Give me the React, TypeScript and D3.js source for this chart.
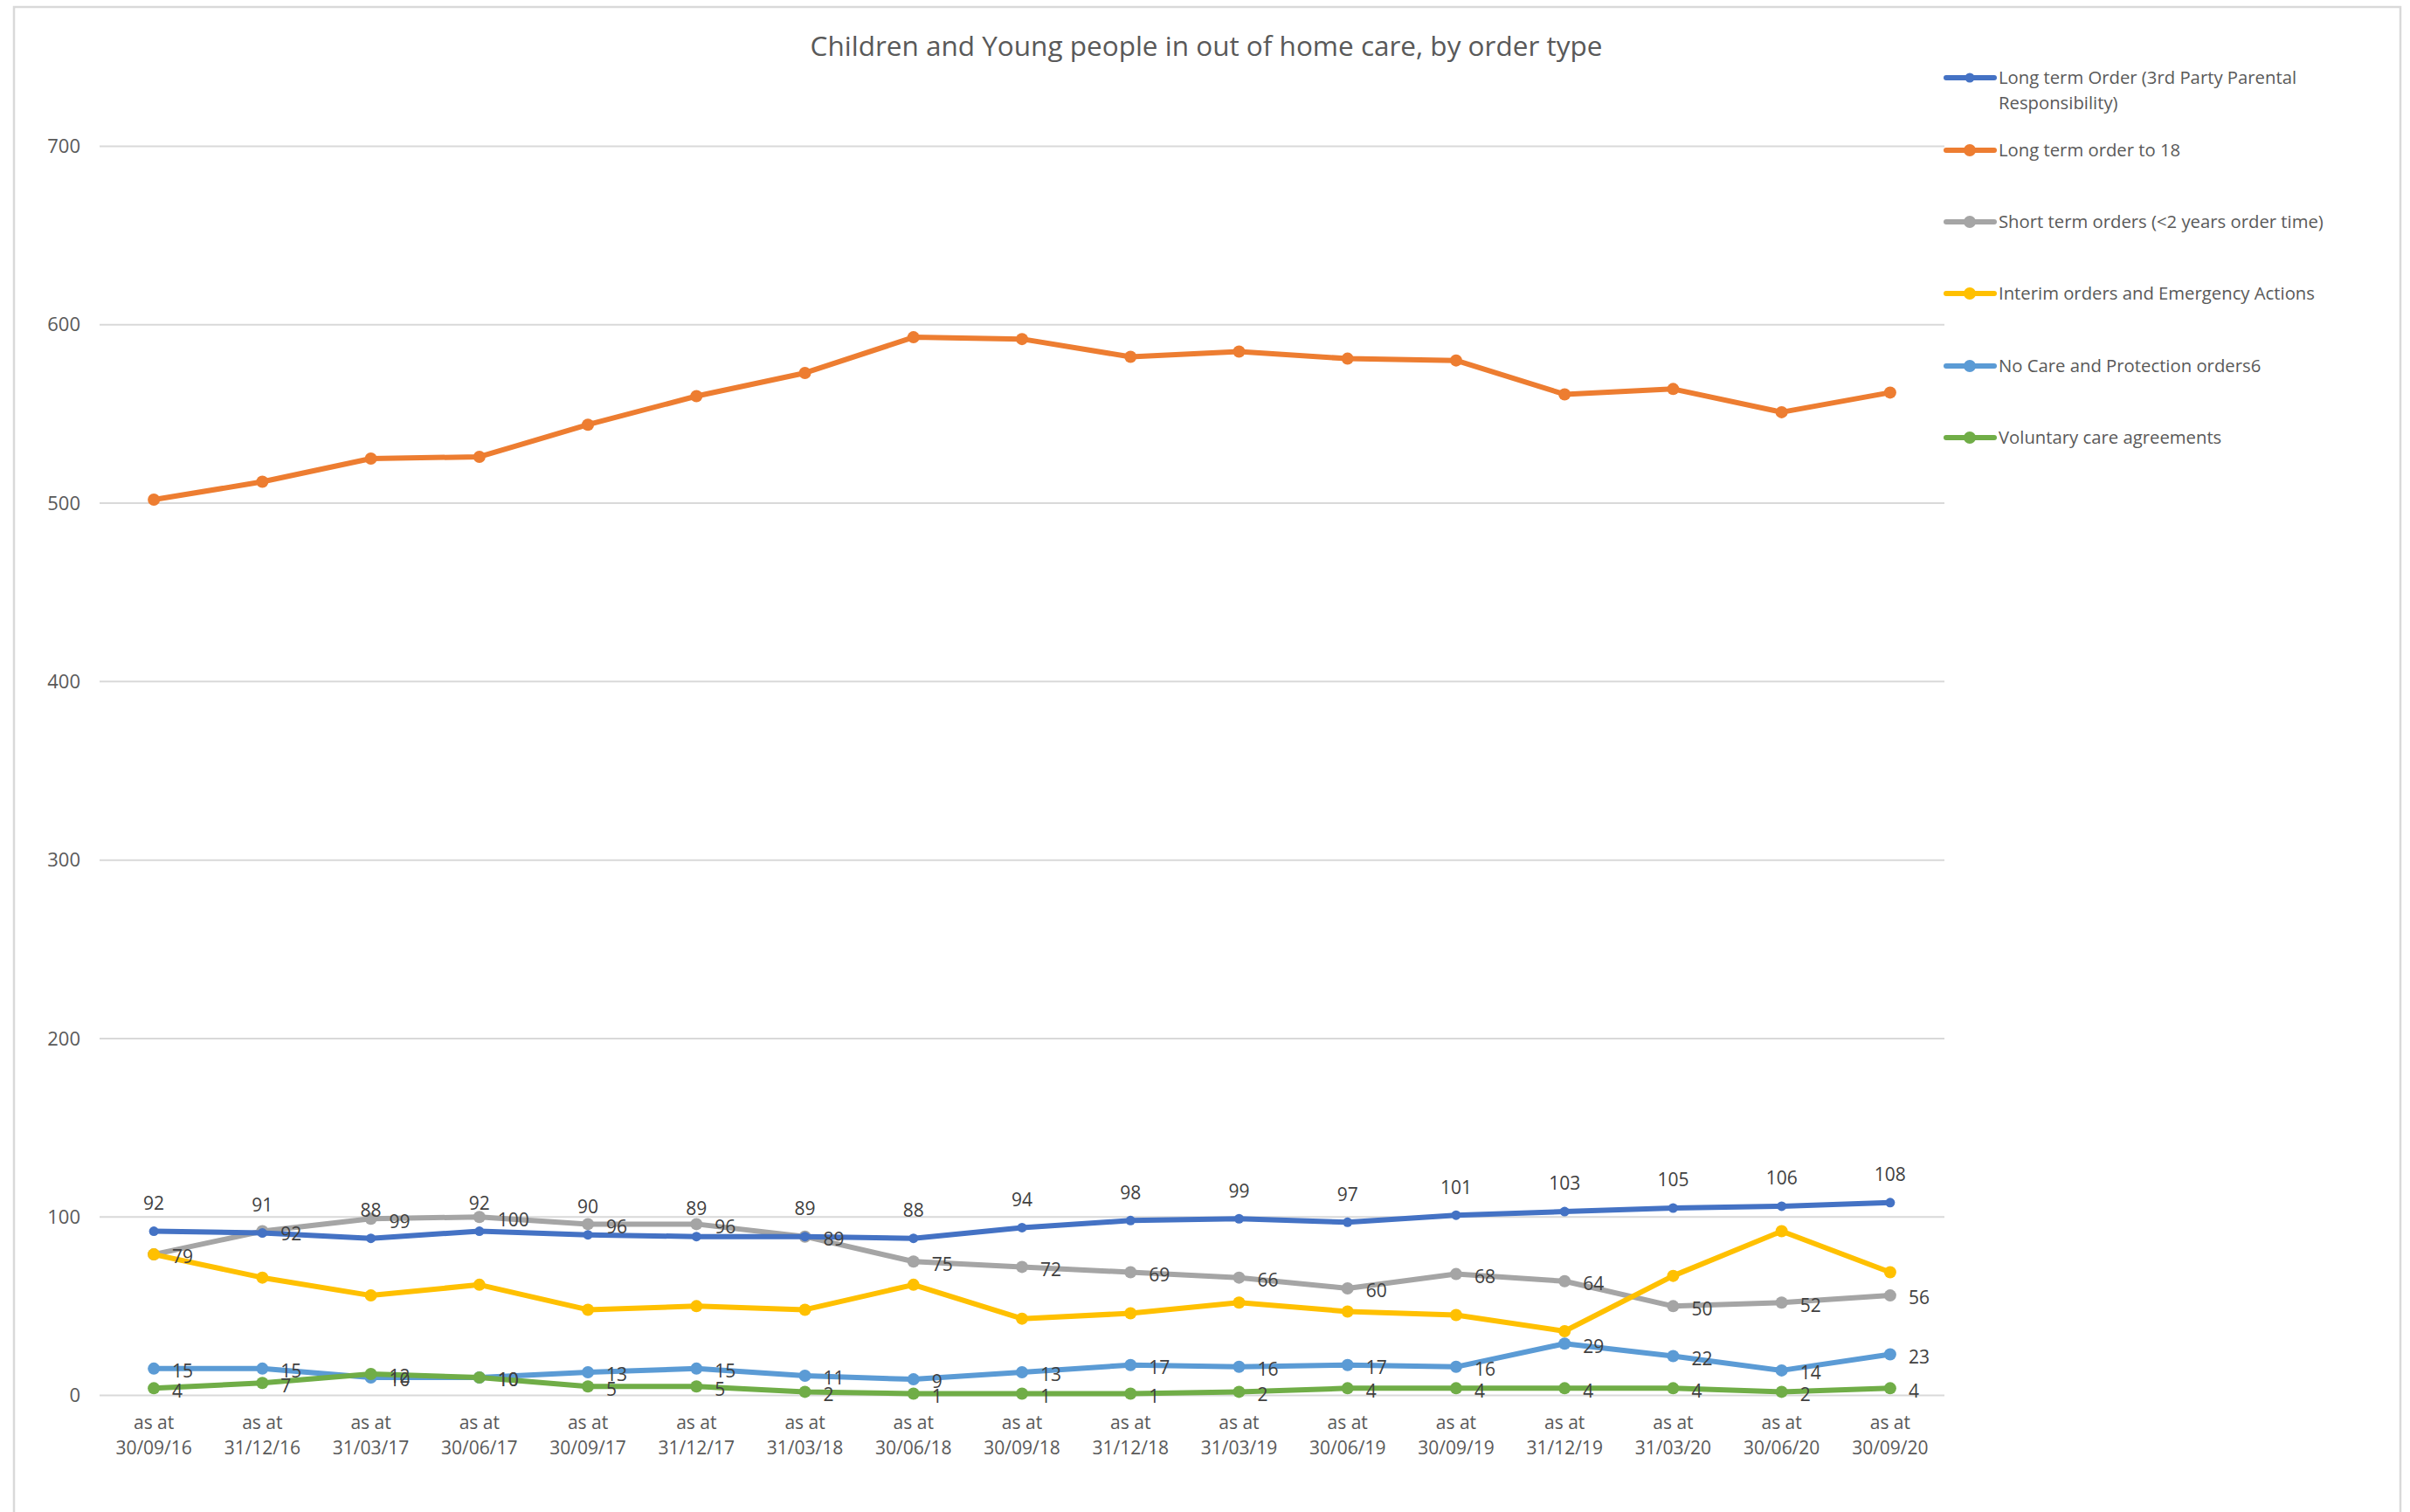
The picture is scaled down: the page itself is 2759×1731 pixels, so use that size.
import React from "react";
import * as d3 from "d3";

const categories = [
  "30/09/16", "31/12/16", "31/03/17", "30/06/17", "30/09/17", "31/12/17",
  "31/03/18", "30/06/18", "30/09/18", "31/12/18", "31/03/19", "30/06/19",
  "30/09/19", "31/12/19", "31/03/20", "30/06/20", "30/09/20",
];

const longTerm3rdParty = [92, 91, 88, 92, 90, 89, 89, 88, 94, 98, 99, 97, 101, 103, 105, 106, 108];
const longTermTo18 = [502, 512, 525, 526, 544, 560, 573, 593, 592, 582, 585, 581, 580, 561, 564, 551, 562];
const shortTerm = [79, 92, 99, 100, 96, 96, 89, 75, 72, 69, 66, 60, 68, 64, 50, 52, 56];
const interim = [79, 66, 56, 62, 48, 50, 48, 62, 43, 46, 52, 47, 45, 36, 67, 92, 69];
const noCare = [15, 15, 10, 10, 13, 15, 11, 9, 13, 17, 16, 17, 16, 29, 22, 14, 23];
const voluntary = [4, 7, 12, 10, 5, 5, 2, 1, 1, 1, 2, 4, 4, 4, 4, 2, 4];

const yTicks = [0, 100, 200, 300, 400, 500, 600, 700];

const seriesNames = [
  ["Long term Order (3rd Party Parental", "Responsibility)"],
  ["Long term order to 18"],
  ["Short term orders (<2 years order time)"],
  ["Interim orders and Emergency Actions"],
  ["No Care and Protection orders6"],
  ["Voluntary care agreements"],
];
const seriesColors = ["#4472C4", "#ED7D31", "#A5A5A5", "#FFC000", "#5B9BD5", "#70AD47"];
const seriesValues = [longTerm3rdParty, longTermTo18, shortTerm, interim, noCare, voluntary];
// label mode: "above", "right", or none
const seriesLabels = ["above", "none", "right", "none", "right", "right"];

const FONT = "'Open Sans', 'Noto Sans', sans-serif";
const TEXT = "#595959";

export default function App() {
  const W = 2759;
  const H = 1731;
  const x = d3.scalePoint<string>().domain(categories).range([114, 2226]).padding(0.5);
  const y = d3.scaleLinear().domain([0, 700]).range([1597.5, 167.5]);
  const line = d3
    .line<number>()
    .x((_, i) => x(categories[i]) as number)
    .y((d) => y(d));

  const drawOrder = [1, 2, 3, 4, 5, 0];
  const legendY = [89, 172, 254, 336, 419, 501];

  return (
    <svg
      width={W}
      height={H}
      style={{ position: "absolute", left: 0, top: 0, display: "block", background: "#fff" }}
      fontFamily={FONT}
    >
      <rect x={16} y={8} width={2732} height={1740} fill="#fff" stroke="#d9d9d9" strokeWidth={2.5} />
      <text x={1381} y={64} textAnchor="middle" fontSize={31.5} fill={TEXT}>
        Children and Young people in out of home care, by order type
      </text>

      {yTicks.map((t) => (
        <g key={t}>
          <line x1={114} x2={2226} y1={y(t)} y2={y(t)} stroke="#d9d9d9" strokeWidth={2} />
          <text x={92} y={y(t)} dy="0.35em" textAnchor="end" fontSize={22} fill={TEXT}>
            {t}
          </text>
        </g>
      ))}

      {categories.map((c) => (
        <g key={c}>
          <text x={x(c)} y={1629} dy="0.35em" textAnchor="middle" fontSize={21} fill={TEXT}>
            as at
          </text>
          <text x={x(c)} y={1658} dy="0.35em" textAnchor="middle" fontSize={21} fill={TEXT}>
            {c}
          </text>
        </g>
      ))}

      {drawOrder.map((si) => {
        const vals = seriesValues[si];
        const col = seriesColors[si];
        const r = si === 0 ? 5.5 : 7;
        return (
          <g key={si}>
            <path d={line(vals) || ""} fill="none" stroke={col} strokeWidth={6} strokeLinejoin="round" strokeLinecap="round" />
            {vals.map((v, i) => (
              <circle key={i} cx={x(categories[i])} cy={y(v)} r={r} fill={col} />
            ))}
          </g>
        );
      })}

      {drawOrder.map((si) => {
        const mode = seriesLabels[si];
        if (mode === "none") return null;
        const vals = seriesValues[si];
        return (
          <g key={"l" + si}>
            {vals.map((v, i) => {
              const px = x(categories[i]) as number;
              const py = y(v);
              return mode === "above" ? (
                <text key={i} x={px} y={py - 32} dy="0.35em" textAnchor="middle" fontSize={21} fill="#404040">
                  {v}
                </text>
              ) : (
                <text key={i} x={px + 21} y={py + 3} dy="0.35em" textAnchor="start" fontSize={21} fill="#404040">
                  {v}
                </text>
              );
            })}
          </g>
        );
      })}

      {seriesNames.map((name, si) => (
        <g key={"lg" + si}>
          <line x1={2228} x2={2283} y1={legendY[si]} y2={legendY[si]} stroke={seriesColors[si]} strokeWidth={6} strokeLinecap="round" />
          <circle cx={2255} cy={legendY[si]} r={si === 0 ? 5.5 : 7} fill={seriesColors[si]} />
          {name.map((ln, k) => (
            <text key={k} x={2288} y={legendY[si] + k * 29} dy="0.35em" fontSize={20.3} fill={TEXT}>
              {ln}
            </text>
          ))}
        </g>
      ))}
    </svg>
  );
}
